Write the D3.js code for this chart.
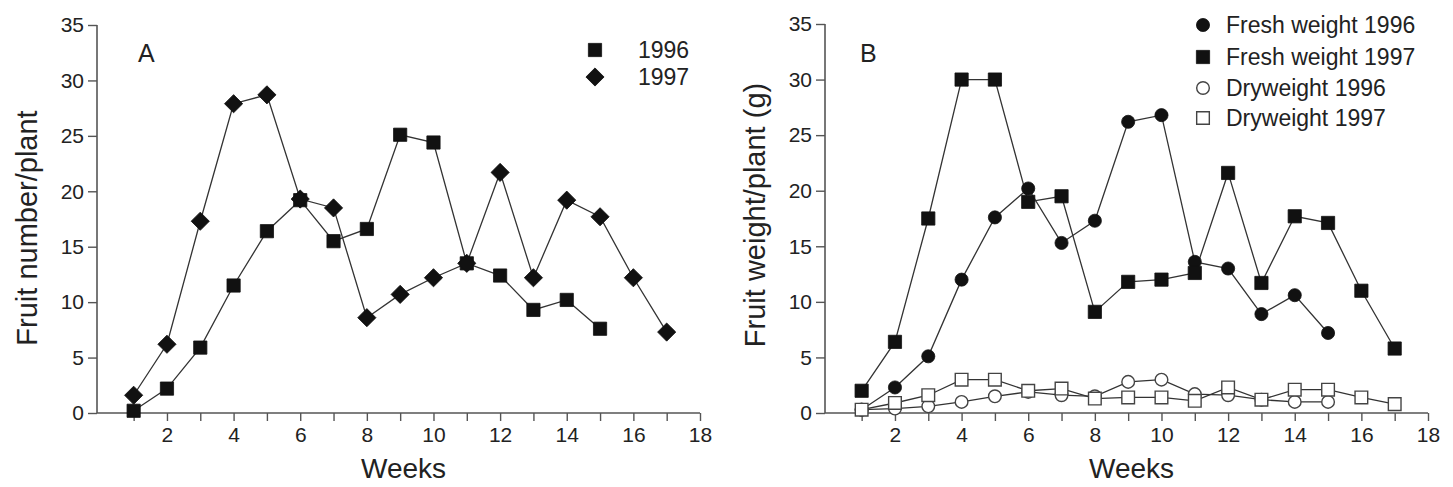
<!DOCTYPE html>
<html>
<head>
<meta charset="utf-8">
<script src="https://cdn.jsdelivr.net/npm/d3@7"></script>
<style>
  html, body { margin: 0; padding: 0; background: #fff; }
  svg text { font-family: "Liberation Sans", Arial, Helvetica, sans-serif; fill: #222; }
</style>
</head>
<body>
<svg id="chart" width="1453" height="487"></svg>
<script>
// ---------- data ----------
const weeks = [1,2,3,4,5,6,7,8,9,10,11,12,13,14,15,16,17];
const xTicks = [1,2,3,4,5,6,7,8,9,10,11,12,13,14,15,16,17,18];
const yTicks = [0,5,10,15,20,25,30,35];

// Panel A: fruit number / plant
const number1996 = [0.2,2.2,5.9,11.5,16.4,19.2,15.5,16.6,25.1,24.4,13.5,12.4,9.3,10.2,7.6];
const number1997 = [1.6,6.2,17.3,27.9,28.7,19.3,18.5,8.6,10.7,12.2,13.5,21.7,12.2,19.2,17.7,12.2,7.3];

// Panel B: fruit weight / plant (g)
const fresh1996 = [0.3,2.3,5.1,12.0,17.6,20.2,15.3,17.3,26.2,26.8,13.6,13.0,8.9,10.6,7.2];
const fresh1997 = [2.0,6.4,17.5,30.0,30.0,19.0,19.5,9.1,11.8,12.0,12.6,21.6,11.7,17.7,17.1,11.0,5.8];
const dry1996   = [0.3,0.4,0.6,1.0,1.5,1.9,1.6,1.5,2.8,3.0,1.7,1.6,1.2,1.0,1.0];
const dry1997   = [0.3,0.9,1.6,3.0,3.0,2.0,2.2,1.3,1.4,1.4,1.1,2.3,1.2,2.1,2.1,1.4,0.8];

const legendA = ["1996", "1997"];
const legendB = ["Fresh weight 1996", "Fresh weight 1997", "Dryweight 1996", "Dryweight 1997"];

// ---------- drawing ----------
const svg = d3.select("#chart");
const LINE = "#333";

function marker(sel, kind) {
  if (kind === "square" || kind === "squareOpen") {
    sel.attr("d", d3.symbol().type(d3.symbolSquare).size(kind === "square" ? 175 : 160)());
  } else if (kind === "diamond") {
    sel.attr("d", d3.symbol().type(d3.symbolSquare).size(165)());
  } else {
    sel.attr("d", d3.symbol().type(d3.symbolCircle).size(kind === "circle" ? 135 : 125)());
  }
  const open = kind.endsWith("Open");
  sel.attr("fill", open ? "#fff" : "#111")
     .attr("stroke", open ? "#444" : "#111")
     .attr("stroke-width", open ? 1.4 : 0.8);
}

function panel(cfg) {
  const g = svg.append("g");
  const x = d3.scaleLinear().domain([-0.1, 18]).range([cfg.x0, cfg.x1]);
  const y = d3.scaleLinear().domain([0, 35]).range([413, cfg.yTop]);

  // axes
  const ya = g.append("g").attr("transform", `translate(${cfg.x0},0)`)
    .call(d3.axisLeft(y).tickValues(yTicks).tickSize(9).tickPadding(4));
  const xa = g.append("g").attr("transform", `translate(0,413)`)
    .call(d3.axisBottom(x).tickValues(xTicks).tickSize(8).tickPadding(6)
      .tickFormat(d => d % 2 === 0 ? d : ""));
  [ya, xa].forEach(a => {
    a.select(".domain").attr("stroke", "#555").attr("stroke-width", 1.6);
    a.selectAll(".tick line").attr("stroke", "#555").attr("stroke-width", 1.4);
    a.selectAll("text").style("font-size", "21px").attr("fill", "#222");
  });
  ya.select(".domain").attr("d", `M0,${y(35)}V${y(0)}`);
  xa.select(".domain").attr("d", `M${cfg.x0},0H${x(18)}`);

  // series
  cfg.series.forEach(s => {
    const pts = s.values.map((v, i) => [weeks[i], v]);
    g.append("path").datum(pts)
      .attr("fill", "none").attr("stroke", LINE).attr("stroke-width", 1.3)
      .attr("d", d3.line().x(d => x(d[0])).y(d => y(d[1])));
  });
  cfg.series.forEach(s => {
    const pts = s.values.map((v, i) => [weeks[i], v]);
    g.selectAll(null).data(pts).enter().append("path")
      .attr("transform", d => `translate(${x(d[0])},${y(d[1])})` + (s.kind === "diamond" ? " rotate(45)" : ""))
      .call(marker, s.kind);
  });

  // panel letter
  g.append("text").attr("x", cfg.letterX).attr("y", 62)
    .style("font-size", "25px").text(cfg.letter);

  // axis titles
  g.append("text").attr("x", (cfg.x0 + x(18)) / 2 + 5).attr("y", 478)
    .attr("text-anchor", "middle").style("font-size", "28px").text("Weeks");
  g.append("text")
    .attr("transform", `translate(${cfg.yLabelX},${cfg.yLabelY}) rotate(-90)`)
    .attr("text-anchor", "middle").style("font-size", "29px").text(cfg.yTitle);

  // legend
  cfg.legend.forEach((lab, i) => {
    const ly = cfg.legY[i];
    g.append("path")
      .attr("transform", `translate(${cfg.legMX},${ly})` + (cfg.series[i].kind === "diamond" ? " rotate(45)" : ""))
      .call(marker, cfg.series[i].kind);
    g.append("text").attr("x", cfg.legTX).attr("y", ly + 8)
      .style("font-size", cfg.legFont).text(lab);
  });
}

panel({
  x0: 97, x1: 700, yTop: 25, letter: "A", letterX: 138,
  yTitle: "Fruit number/plant", yLabelX: 37, yLabelY: 228,
  series: [
    { values: number1996, kind: "square" },
    { values: number1997, kind: "diamond" }
  ],
  legend: legendA, legY: [50, 77], legMX: 595, legTX: 638, legFont: "23px"
});

panel({
  x0: 825, x1: 1428, yTop: 24, letter: "B", letterX: 860,
  yTitle: "Fruit weight/plant (g)", yLabelX: 765, yLabelY: 215,
  series: [
    { values: fresh1996, kind: "circle" },
    { values: fresh1997, kind: "square" },
    { values: dry1996, kind: "circleOpen" },
    { values: dry1997, kind: "squareOpen" }
  ],
  legend: legendB, legY: [25, 57, 88, 118], legMX: 1203, legTX: 1226, legFont: "23px"
});
</script>
</body>
</html>
